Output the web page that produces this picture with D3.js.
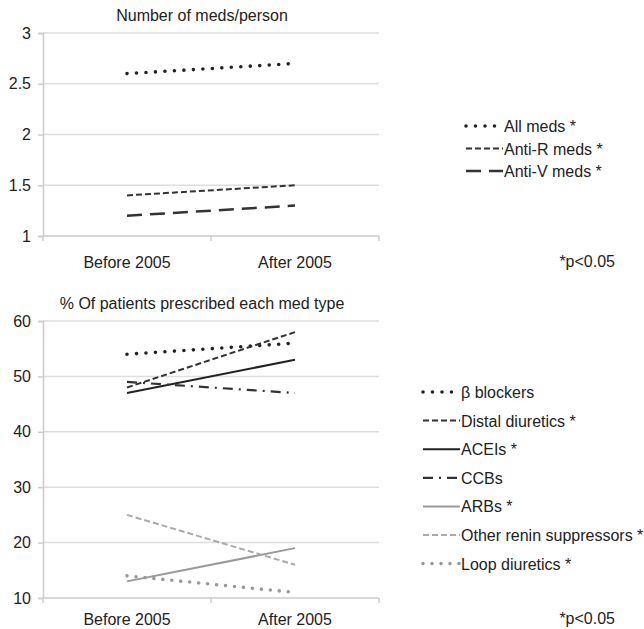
<!DOCTYPE html>
<html>
<head>
<meta charset="utf-8">
<script src="https://cdn.jsdelivr.net/npm/d3@7"></script>
<style>
body { margin: 0; background: #fff; }
text { font-family: "Liberation Sans", Arial, sans-serif; fill: #222; }
</style>
</head>
<body>
<svg width="644" height="629"></svg>
<script>
var svg = d3.select("svg");

var periods = ["Before 2005", "After 2005"];

// top panel
var medsNames = ["All meds *", "Anti-R meds *", "Anti-V meds *"];
var allMeds = [2.6, 2.7];
var antiR = [1.4, 1.5];
var antiV = [1.2, 1.3];
var medsTicks = [1, 1.5, 2, 2.5, 3];

// bottom panel
var typeNames = ["\u03b2 blockers", "Distal diuretics *", "ACEIs *", "CCBs", "ARBs *", "Other renin suppressors *", "Loop diuretics *"];
var betaBlockers = [54, 56];
var distal = [48, 58];
var acei = [47, 53];
var ccb = [49, 47];
var arb = [13, 19];
var otherRenin = [25, 16];
var loopDiur = [14, 11];
var pctTicks = [10, 20, 30, 40, 50, 60];

var styles = {
  dots:   {color: "#222", width: 3.6, dash: "0,9.5", cap: "round"},
  dash:   {color: "#333", width: 2, dash: "6,3", cap: "butt"},
  longd:  {color: "#333", width: 2.5, dash: "15,8", cap: "butt"},
  solid:  {color: "#222", width: 2, dash: null, cap: "butt"},
  dashdot:{color: "#333", width: 2.2, dash: "10,6,2,6", cap: "butt"},
  gsolid: {color: "#999", width: 2, dash: null, cap: "butt"},
  gdash:  {color: "#aaa", width: 2, dash: "6,3", cap: "butt"},
  gdots:  {color: "#999", width: 3.6, dash: "0,9", cap: "round"}
};

function panel(opt) {
  var g = svg.append("g");
  var x = d3.scaleBand().domain(periods).range([opt.left, opt.right]);
  var y = d3.scaleLinear().domain(opt.domain).range([opt.bottom, opt.top]);

  g.append("g").selectAll("line").data(opt.ticks.slice(1)).enter().append("line")
    .attr("x1", opt.left).attr("x2", opt.right)
    .attr("y1", function(d) { return y(d); }).attr("y2", function(d) { return y(d); })
    .attr("stroke", "#ddd").attr("stroke-width", 1.5);

  var yAxis = g.append("g")
    .attr("transform", "translate(" + opt.left + ",0)")
    .call(d3.axisLeft(y).tickValues(opt.ticks).tickFormat(d3.format("~g")).tickSize(5).tickPadding(7));
  yAxis.select(".domain").attr("stroke", "#ccc").attr("stroke-width", 1.5);
  yAxis.selectAll(".tick line").attr("stroke", "#ccc").attr("stroke-width", 1.5);
  yAxis.selectAll("text").style("font-size", "16px").attr("fill", "#222");

  // category axis with boundary ticks
  g.append("line").attr("x1", opt.left).attr("x2", opt.right)
    .attr("y1", opt.bottom).attr("y2", opt.bottom)
    .attr("stroke", "#ccc").attr("stroke-width", 1.5);
  var bounds = [opt.left, opt.left + x.bandwidth(), opt.right];
  g.selectAll(".bt").data(bounds).enter().append("line")
    .attr("x1", function(d) { return d; }).attr("x2", function(d) { return d; })
    .attr("y1", opt.bottom).attr("y2", opt.bottom + 5)
    .attr("stroke", "#ccc").attr("stroke-width", 1.5);
  g.selectAll(".cl").data(periods).enter().append("text")
    .attr("x", function(d) { return x(d) + x.bandwidth() / 2; })
    .attr("y", opt.bottom + opt.catDy)
    .attr("text-anchor", "middle").style("font-size", "16px")
    .text(function(d) { return d; });

  g.append("text").attr("x", 202).attr("y", opt.top - 12)
    .attr("text-anchor", "middle").style("font-size", "16px")
    .text(opt.title);

  var line = d3.line()
    .x(function(d, i) { return x(periods[i]) + x.bandwidth() / 2; })
    .y(function(d) { return y(d); });

  opt.series.forEach(function(s, i) {
    var st = styles[s.style];
    g.append("path").datum(s.values)
      .attr("d", line)
      .attr("fill", "none")
      .attr("stroke", st.color)
      .attr("stroke-width", st.width)
      .attr("stroke-dasharray", st.dash)
      .attr("stroke-linecap", st.cap);

    var ly = opt.legendY + i * opt.legendStep;
    g.append("line")
      .attr("x1", opt.legendX).attr("x2", opt.legendX + 37)
      .attr("y1", ly).attr("y2", ly)
      .attr("stroke", st.color)
      .attr("stroke-width", st.width)
      .attr("stroke-dasharray", st.dash)
      .attr("stroke-linecap", st.cap);
    g.append("text").attr("x", opt.legendX + 38).attr("y", ly + 6)
      .style("font-size", "16px").text(s.name);
  });

  g.append("text").attr("x", 615).attr("y", opt.bottom + opt.catDy - 1)
    .attr("text-anchor", "end").style("font-size", "16px").text("*p<0.05");
}

panel({
  title: "Number of meds/person",
  left: 43, right: 379, top: 33, bottom: 236,
  domain: [1, 3], ticks: medsTicks, catDy: 32,
  legendX: 466, legendY: 126, legendStep: 22.5,
  series: [
    {name: medsNames[0], values: allMeds, style: "dots"},
    {name: medsNames[1], values: antiR, style: "dash"},
    {name: medsNames[2], values: antiV, style: "longd"}
  ]
});

panel({
  title: "% Of patients prescribed each med type",
  left: 43, right: 379, top: 321, bottom: 598,
  domain: [10, 60], ticks: pctTicks, catDy: 27,
  legendX: 423, legendY: 392, legendStep: 28.6,
  series: [
    {name: typeNames[0], values: betaBlockers, style: "dots"},
    {name: typeNames[1], values: distal, style: "dash"},
    {name: typeNames[2], values: acei, style: "solid"},
    {name: typeNames[3], values: ccb, style: "dashdot"},
    {name: typeNames[4], values: arb, style: "gsolid"},
    {name: typeNames[5], values: otherRenin, style: "gdash"},
    {name: typeNames[6], values: loopDiur, style: "gdots"}
  ]
});
</script>
</body>
</html>
